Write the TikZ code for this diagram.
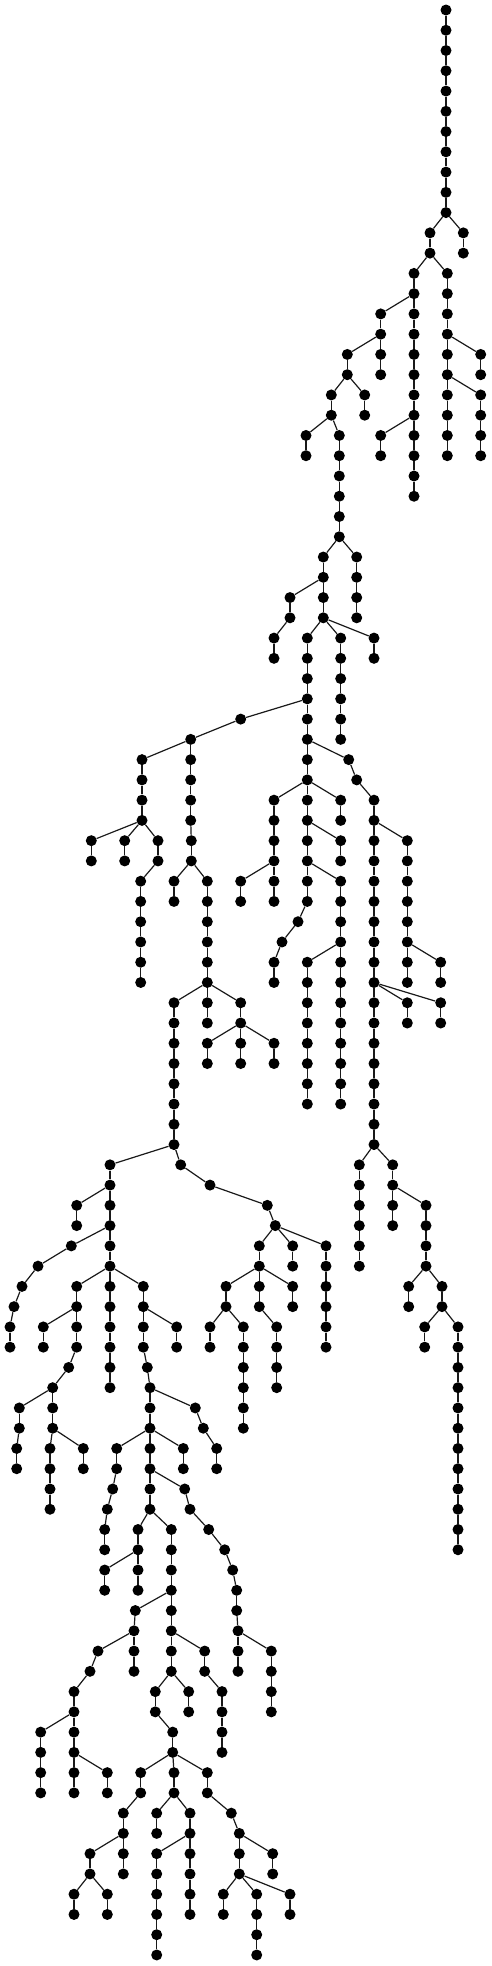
\documentclass[tikz,border=0pt]{standalone}
\usepackage{tikz}

% a vertical run of vertices: name, first level, x positions
\newcommand\vchain[3]{%
  \foreach \x [count=\k from #2] in {#3} {
    \node[vtx] (#1-\k) at (\x, {10+20.26*\k}) {};
    \ifnum\k>#2\relax
      \pgfmathtruncatemacro\kprev{\k-1}
      \draw[edge] (#1-\kprev) -- (#1-\k);
    \fi
  }%
}

\begin{document}
\begin{tikzpicture}[
  x=1pt, y=-1pt,
  vtx/.style={circle, fill=black, inner sep=0pt, minimum size=11pt},
  edge/.style={draw=black!90, line width=1.2pt},
]
  \useasboundingbox (0,0) rectangle (491,1966);

  % top part
  \vchain{A}{0}{446,446,446,446,446,446,446,446,446,446,446,430,430}
  \vchain{B}{11}{463.3,463.3}
  \vchain{C}{13}{414,414,414,414,414,414,414,414,414,414,414,414}
  \vchain{D}{13}{447.3,447.3,447.3,447.3,447.3,447.3,447.3,447.3,447.3,447.3}
  \vchain{E}{17}{480.7,480.7}
  \vchain{F}{19}{480.7,480.7,480.7,480.7}
  \vchain{G}{21}{380.7,380.7}
  \vchain{H}{15}{380.7,380.7,347.3,347.3,331.3,331.3,339.3,339.3,339.3,339.3,339.3,339.3,323.3,323.3,323.3,323.3,
    307.3,307.3,307.3,307.3,307.3,307.3,307.3,307.3,307.3,307.3,307.3,307.3,
    340.7,340.7,340.7,340.7,340.7,340.7,340.7,340.7,340.7,340.7,340.7,340.7}
  \vchain{I}{17}{380.7,380.7}
  \vchain{J}{19}{364.7,364.7}
  \vchain{K}{21}{306,306}
  \vchain{L}{27}{356.7,356.7,356.7,356.7}
  \vchain{M}{29}{290,290,274,274}
  \vchain{N}{31}{340.7,340.7,340.7,340.7,340.7,340.7}
  \vchain{O}{31}{374,374}

  % middle part
  \vchain{P}{35}{240.7,190.7,190.7,190.7,190.7,190.7,191.3,191.3,207.3,207.3,207.3,207.3,207.3,207.3,
    174,174,174,174,174,174,174,174,180.7,210,267.3,275.3,259.3,259.3,226,226,
    243.3,243.3,243.3,243.3,243.3,243.3}
  \vchain{Q}{37}{348.7,356.7,374,374,374,374,374,374,374,374,374,374,374,374,374,374,374,374,374,374,
    392.7,392.7,426,426,426,426,442,442,458,458,458,458,458,458,458,458,458,458,458,458}
  \vchain{R}{39}{274,274,274,274,274,274}
  \vchain{S}{43}{240.7,240.7}
  \vchain{T}{39}{340.7,340.7}
  \vchain{U}{41}{340.7,340.7}
  \vchain{V}{43}{307.3,307.3,298,282,274,274}
  \vchain{W}{47}{307.3,307.3,307.3,307.3,307.3,307.3,307.3,307.3}
  \vchain{X}{41}{407.3,407.3,407.3,407.3,407.3,407.3,407.3,407.3}
  \vchain{Y}{47}{440.7,440.7}
  \vchain{Z}{49}{407.3,407.3}
  \vchain{AA}{49}{440.7,440.7}
  \vchain{AB}{57}{359.3,359.3,359.3,359.3,359.3,359.3}
  \vchain{AC}{59}{392.7,392.7}
  \vchain{AD}{63}{408.7,408.7}
  \vchain{AE}{65}{424.7,424.7}
  \vchain{AF}{37}{142,142,142,142,158,158,140.7,140.7,140.7,140.7,140.7,140.7}
  \vchain{AG}{41}{91.3,91.3}
  \vchain{AH}{41}{124.7,124.7}
  \vchain{AI}{43}{174,174}
  \vchain{AJ}{49}{207.3,207.3}
  \vchain{AK}{49}{240.7,240.7,240.7,240.7}
  \vchain{AL}{51}{207.3,207.3}
  \vchain{AM}{51}{274,274}
  \vchain{AN}{61}{292.7,292.7}
  \vchain{AO}{61}{326,326,326,326,326,326}
  \vchain{AP}{63}{259.3,259.3,276.7,276.7,276.7,276.7}
  \vchain{AQ}{63}{292.7,292.7}
  \vchain{AR}{65}{210,210}

  % lower part
  \vchain{AS}{57}{110,110,110,110,110,110,143.3,143.3,143.3,143.3,147.3,150,150,150,150,150,150,150,
    171.3,171.3,171.3,171.3,171.3,171.3,171.3,171.3,155.3,155.3,172.7,172.7,174,174,
    190,190,190,190,190,190}
  \vchain{AT}{59}{76.7,76.7}
  \vchain{AU}{61}{71.3,38,22,14,10,10}
  \vchain{AV}{63}{76.7,76.7,76.7,76.7,68.7,52.7,52.7,52.7,50,50,50,50}
  \vchain{AW}{63}{110,110,110,110,110,110}
  \vchain{AX}{65}{43.3,43.3}
  \vchain{AY}{69}{19.3,19.3,16.7,16.7}
  \vchain{AZ}{71}{83.3,83.3}
  \vchain{BA}{65}{176.7,176.7}
  \vchain{BB}{69}{195.3,203.3,216.7,216.7}
  \vchain{BC}{71}{116.7,116.7,112.7,107.3,104.7,104.7}
  \vchain{BD}{71}{183.3,183.3}
  \vchain{BE}{73}{184.7,190,208.7,224.7,232.7,236.7,236.7,238,238,238}
  \vchain{BF}{81}{271.3,271.3,271.3,271.3}
  \vchain{BG}{75}{138,138,138,138}
  \vchain{BH}{77}{104.7,104.7}
  \vchain{BI}{79}{135.3,134,98,90,74,74,74,74,74,74}
  \vchain{BJ}{81}{134,134}
  \vchain{BK}{85}{40.7,40.7,40.7,40.7}
  \vchain{BL}{87}{107.3,107.3}
  \vchain{BM}{81}{204.7,204.7,222,222,222,222}
  \vchain{BN}{83}{188.7,188.7}
  \vchain{BO}{87}{140.7,140.7,123.3,123.3,123.3,123.3}
  \vchain{BP}{91}{90,90,74,74}
  \vchain{BQ}{93}{107.3,107.3}
  \vchain{BR}{87}{207.3,207.3,231.3,239.3,239.3,239.3,256.7,256.7,256.7,256.7}
  \vchain{BS}{91}{272.7,272.7}
  \vchain{BT}{93}{223.3,223.3}
  \vchain{BU}{93}{290,290}
  \vchain{BV}{89}{156.7,156.7}
  \vchain{BW}{91}{156.7,156.7,156.7,156.7,156.7,156.7}

  % branch edges
  \draw[edge] (A-10) -- (B-11);
  \draw[edge] (A-12) -- (C-13);
  \draw[edge] (A-12) -- (D-13);
  \draw[edge] (D-16) -- (E-17);
  \draw[edge] (D-18) -- (F-19);
  \draw[edge] (C-20) -- (G-21);
  \draw[edge] (C-14) -- (H-15);
  \draw[edge] (H-16) -- (I-17);
  \draw[edge] (H-18) -- (J-19);
  \draw[edge] (H-20) -- (K-21);
  \draw[edge] (H-26) -- (L-27);
  \draw[edge] (H-28) -- (M-29);
  \draw[edge] (H-30) -- (N-31);
  \draw[edge] (H-30) -- (O-31);
  \draw[edge] (H-34) -- (P-35);
  \draw[edge] (H-36) -- (Q-37);
  \draw[edge] (H-38) -- (R-39);
  \draw[edge] (R-42) -- (S-43);
  \draw[edge] (H-38) -- (T-39);
  \draw[edge] (H-40) -- (U-41);
  \draw[edge] (H-42) -- (V-43);
  \draw[edge] (H-46) -- (W-47);
  \draw[edge] (Q-40) -- (X-41);
  \draw[edge] (X-46) -- (Y-47);
  \draw[edge] (Q-48) -- (Z-49);
  \draw[edge] (Q-48) -- (AA-49);
  \draw[edge] (Q-56) -- (AB-57);
  \draw[edge] (Q-58) -- (AC-59);
  \draw[edge] (Q-62) -- (AD-63);
  \draw[edge] (Q-64) -- (AE-65);
  \draw[edge] (P-36) -- (AF-37);
  \draw[edge] (AF-40) -- (AG-41);
  \draw[edge] (AF-40) -- (AH-41);
  \draw[edge] (P-42) -- (AI-43);
  \draw[edge] (P-48) -- (AJ-49);
  \draw[edge] (P-48) -- (AK-49);
  \draw[edge] (AK-50) -- (AL-51);
  \draw[edge] (AK-50) -- (AM-51);
  \draw[edge] (P-60) -- (AN-61);
  \draw[edge] (P-60) -- (AO-61);
  \draw[edge] (P-62) -- (AP-63);
  \draw[edge] (P-62) -- (AQ-63);
  \draw[edge] (P-64) -- (AR-65);
  \draw[edge] (P-56) -- (AS-57);
  \draw[edge] (AS-58) -- (AT-59);
  \draw[edge] (AS-60) -- (AU-61);
  \draw[edge] (AS-62) -- (AV-63);
  \draw[edge] (AS-62) -- (AW-63);
  \draw[edge] (AV-64) -- (AX-65);
  \draw[edge] (AV-68) -- (AY-69);
  \draw[edge] (AV-70) -- (AZ-71);
  \draw[edge] (AS-64) -- (BA-65);
  \draw[edge] (AS-68) -- (BB-69);
  \draw[edge] (AS-70) -- (BC-71);
  \draw[edge] (AS-70) -- (BD-71);
  \draw[edge] (AS-72) -- (BE-73);
  \draw[edge] (BE-80) -- (BF-81);
  \draw[edge] (AS-74) -- (BG-75);
  \draw[edge] (BG-76) -- (BH-77);
  \draw[edge] (AS-78) -- (BI-79);
  \draw[edge] (BI-80) -- (BJ-81);
  \draw[edge] (BI-84) -- (BK-85);
  \draw[edge] (BI-86) -- (BL-87);
  \draw[edge] (AS-80) -- (BM-81);
  \draw[edge] (AS-82) -- (BN-83);
  \draw[edge] (AS-86) -- (BO-87);
  \draw[edge] (BO-90) -- (BP-91);
  \draw[edge] (BP-92) -- (BQ-93);
  \draw[edge] (AS-86) -- (BR-87);
  \draw[edge] (BR-90) -- (BS-91);
  \draw[edge] (BR-92) -- (BT-93);
  \draw[edge] (BR-92) -- (BU-93);
  \draw[edge] (AS-88) -- (BV-89);
  \draw[edge] (AS-90) -- (BW-91);
\end{tikzpicture}
\end{document}
